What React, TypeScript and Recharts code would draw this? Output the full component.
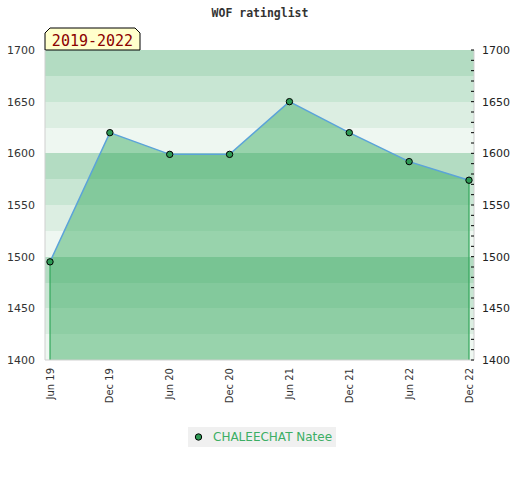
import { AreaChart, Area, Line, XAxis, YAxis, CartesianGrid, Legend, ReferenceLine } from 'recharts'

const months = ['Jun 19', 'Dec 19', 'Jun 20', 'Dec 20', 'Jun 21', 'Dec 21', 'Jun 22', 'Dec 22']
const ratings = [1495, 1620, 1599, 1599, 1650, 1620, 1592, 1574]
const leftTicks = [1400, 1450, 1500, 1550, 1600, 1650, 1700]
const rightTicks = [
  1400, 1410, 1420, 1430, 1440, 1450, 1460, 1470, 1480, 1490, 1500,
  1510, 1520, 1530, 1540, 1550, 1560, 1570, 1580, 1590, 1600,
  1610, 1620, 1630, 1640, 1650, 1660, 1670, 1680, 1690, 1700,
]
const bandEdges = [1400, 1425, 1450, 1475, 1500, 1525, 1550, 1575, 1600, 1625, 1650, 1675, 1700]
const bandColors = ['#b3dcc2', '#c8e6d3', '#dceee2', '#eef7f1']
const playerName = 'CHALEECHAT Natee'
const periodLabel = '2019-2022'
const chartTitle = 'WOF ratinglist'

const data = months.map((m, i) => ({ month: m, rating: ratings[i] }))
const lastIndex = months.length - 1

const FONT = "'DejaVu Sans', sans-serif"
const GREEN = '#32a75b'

function XTick({ x, y, payload }: any) {
  return (
    <text
      x={x}
      y={y}
      transform={`rotate(-90, ${x}, ${y})`}
      textAnchor="end"
      dy="0.35em"
      fontFamily={FONT}
      fontSize={10}
      fill="#333"
    >
      {payload.value}
    </text>
  )
}

// minor ticks point into the plot, labels only every 50
function RightTick({ x, y, payload }: any) {
  const v = payload.value as number
  return (
    <g>
      <line x1={x - 3} x2={x} y1={y} y2={y} stroke="#000" strokeWidth={1} />
      {v % 50 === 0 && (
        <text x={x + 8} y={y} dy="0.35em" fontFamily={FONT} fontSize={11} fill="#222">
          {v}
        </text>
      )}
    </g>
  )
}

function LegendBox() {
  return (
    <div
      style={{
        display: 'flex',
        alignItems: 'center',
        background: '#f0f0f0',
        width: 148,
        height: 20,
        fontFamily: FONT,
        fontSize: 12,
        color: '#3cae64',
        whiteSpace: 'nowrap',
      }}
    >
      <svg width={25} height={20} style={{ flexShrink: 0 }}>
        <circle cx={10.5} cy={10} r={3.2} fill="#2e9a55" stroke="#000" strokeWidth={1} />
      </svg>
      <span>{playerName}</span>
    </div>
  )
}

export default function App() {
  return (
    <div style={{ position: 'absolute', left: 0, top: 0, width: 520, height: 480, background: '#fff' }}>
      <AreaChart width={520} height={480} data={data} margin={{ top: 50, right: 0, bottom: 60, left: 0 }}>
        <CartesianGrid
          yAxisId="left"
          vertical={false}
          stroke="none"
          horizontalValues={bandEdges}
          horizontalFill={bandColors}
        />
        <XAxis
          dataKey="month"
          height={60}
          interval={0}
          padding={{ left: 5, right: 5 }}
          tickLine={false}
          axisLine={{ stroke: '#cfcfcf' }}
          tick={<XTick />}
        />
        <XAxis xAxisId="top" orientation="top" height={0} tick={false} tickLine={false} axisLine={{ stroke: '#cfcfcf' }} />
        <YAxis
          yAxisId="left"
          width={45}
          domain={[1400, 1700]}
          ticks={leftTicks}
          tickLine={false}
          tickMargin={4}
          axisLine={{ stroke: '#cfcfcf' }}
          tick={{ fontFamily: FONT, fontSize: 11, fill: '#333' }}
        />
        <YAxis
          yAxisId="right"
          orientation="right"
          width={46}
          domain={[1400, 1700]}
          ticks={rightTicks}
          interval={0}
          tickSize={0}
          tickMargin={0}
          tickLine={false}
          axisLine={{ stroke: '#cfcfcf' }}
          tick={<RightTick />}
        />
        <Area
          yAxisId="left"
          type="linear"
          dataKey="rating"
          name={playerName}
          stroke="#5ba3d9"
          strokeWidth={1.5}
          fill={GREEN}
          fillOpacity={0.46}
          dot={false}
          activeDot={false}
          isAnimationActive={false}
        />
        {/* invisible series so the right axis gets drawn */}
        <Line
          yAxisId="right"
          dataKey="rating"
          stroke="none"
          dot={false}
          activeDot={false}
          legendType="none"
          isAnimationActive={false}
        />
        <ReferenceLine
          yAxisId="left"
          stroke={GREEN}
          strokeWidth={1.2}
          ifOverflow="visible"
          segment={[{ x: months[0], y: 1400 }, { x: months[0], y: ratings[0] }]}
        />
        <ReferenceLine
          yAxisId="left"
          stroke={GREEN}
          strokeWidth={1.2}
          ifOverflow="visible"
          segment={[{ x: months[lastIndex], y: 1400 }, { x: months[lastIndex], y: ratings[lastIndex] }]}
        />
        {/* markers drawn above the edge lines */}
        <Line
          yAxisId="left"
          dataKey="rating"
          stroke="none"
          dot={{ r: 3.2, fill: '#2e9a55', stroke: '#000', strokeWidth: 1 }}
          activeDot={false}
          legendType="none"
          isAnimationActive={false}
        />
        <Legend
          layout="horizontal"
          verticalAlign="middle"
          align="center"
          content={<LegendBox />}
          wrapperStyle={{ position: 'absolute', top: 427, left: 188, width: 148 }}
        />
        <text
          x={260}
          y={17}
          textAnchor="middle"
          fontFamily="'DejaVu Sans Mono', monospace"
          fontWeight="bold"
          fontSize={11.5}
          fill="#333"
        >
          {chartTitle}
        </text>
        <polygon points="45,50 45,33 50,28 135,28 140,33 140,50" fill="#ffffcc" stroke="#000" strokeWidth={1} />
        <text x={92.5} y={46} textAnchor="middle" fontFamily="'DejaVu Sans Mono', monospace" fontSize={15} fill="#8b0000">
          {periodLabel}
        </text>
      </AreaChart>
    </div>
  )
}
